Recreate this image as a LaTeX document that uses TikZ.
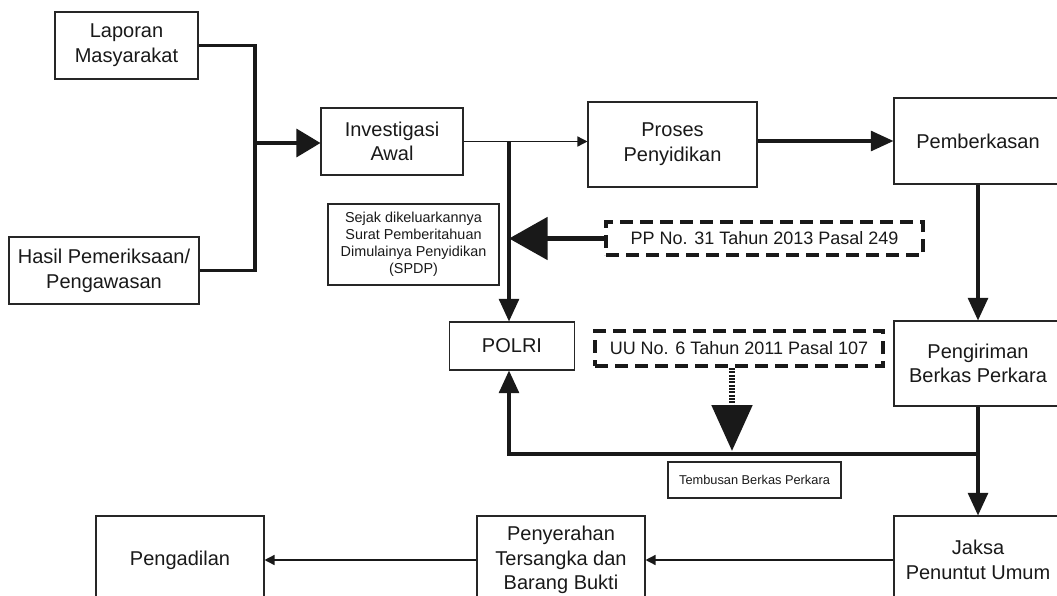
\documentclass[tikz,border=0pt]{standalone}
\usepackage{fontspec}
\setmainfont{Liberation Sans}
\usetikzlibrary{arrows.meta,calc}
\begin{document}
\begin{tikzpicture}[x=0.75pt,y=-0.75pt,
  box/.style={draw=black!85,line width=0.8pt,align=center,inner sep=0pt,text=black!90,
    font=\fontsize{15pt}{18.5pt}\selectfont},
  smallbox/.style={box,font=\fontsize{10.8pt}{12.8pt}\selectfont},
  tinybox/.style={box,font=\fontsize{9.6pt}{11pt}\selectfont},
  lawbox/.style={draw=black!90,line width=3pt,dash pattern=on 10pt off 5pt,align=center,inner sep=0pt,
    text=black!90,font=\fontsize{13.5pt}{16pt}\selectfont},
  thickline/.style={line width=2.3pt,draw=black!90},
  thinline/.style={line width=1.1pt,draw=black!90},
  bigtip/.style={-{Triangle[length=18pt,width=21pt]}},
  midtip/.style={-{Triangle[length=17pt,width=15pt]}},
  smalltip/.style={-{Triangle[length=7.5pt,width=7.5pt]}},
]
\useasboundingbox (0,0) rectangle (1057,596);
\clip (0,0) rectangle (1057,596);
% boxes
\node[box,minimum width=107.25pt,minimum height=50.25pt] (lap) at (126.5,45.5) {Laporan\\Masyarakat};
\node[box,minimum width=142.5pt,minimum height=50.25pt] (has) at (104,270.5) {Hasil Pemeriksaan/\\Pengawasan};
\node[box,minimum width=106.5pt,minimum height=50.25pt] (inv) at (392,141.5) {Investigasi\\Awal};
\node[box,minimum width=126.75pt,minimum height=63.75pt] (pro) at (672.5,144.5) {Proses\\Penyidikan};
\node[box,minimum width=126pt,minimum height=64.5pt] (pem) at (978,141) {Pemberkasan};
\node[smallbox,minimum width=128.25pt,minimum height=60.75pt] (sej) at (413.5,244.5) {Sejak dikeluarkannya\\Surat Pemberitahuan\\Dimulainya Penyidikan\\(SPDP)};
\node[lawbox,minimum width=237.75pt,minimum height=24.75pt] (pp) at (764.5,238.5) {PP No. 31 Tahun 2013 Pasal 249};
\node[box,minimum width=93.75pt,minimum height=36pt] (pol) at (512,346) {POLRI};
\node[lawbox,minimum width=216pt,minimum height=26.25pt] (uu) at (739,348.5) {UU No. 6 Tahun 2011 Pasal 107};
\node[box,minimum width=126pt,minimum height=63.75pt] (pgr) at (978,363.5) {Pengiriman\\Berkas Perkara};
\node[tinybox,minimum width=129.75pt,minimum height=27pt] (tem) at (754.5,480) {Tembusan Berkas Perkara};
\node[box,minimum width=126pt,minimum height=66pt] (jak) at (978,560) {Jaksa\\Penuntut Umum};
\node[box,minimum width=126pt,minimum height=66pt] (pny) at (561,560) {Penyerahan\\Tersangka dan\\Barang Bukti};
\node[box,minimum width=126pt,minimum height=66pt] (pgd) at (180,560) {Pengadilan};
% junction coordinates
\coordinate (j1) at (255,143);
\coordinate (j2) at (509,141.5);
\coordinate (j3) at (978,454);
\coordinate (uutip) at (732,451);
% connectors
\draw[thickline] (lap.east) -- (lap.east -| j1) -- (has.east -| j1) -- (has.east);
\draw[thickline,bigtip] (j1) -- (j1 -| inv.west);
\draw[thinline,smalltip] (inv.east) -- (inv.east -| pro.west);
\draw[thickline,midtip] (j2) -- (j2 |- pol.north);
\draw[line width=4pt,draw=black!90,-{Triangle[length=29pt,width=31.5pt]}] (pp.west) -- (pp.west -| j2);
\draw[thickline,{Triangle[length=17pt,width=15pt]}-] (pem.west) -- (pem.west -| pro.east);
\draw[thickline,midtip] (pem.south) -- (pgr.north);
\draw[thickline,midtip] (pgr.south) -- (jak.north);
\draw[thickline,midtip] (j3) -- (j3 -| j2) -- (j2 |- pol.south);
\draw[line width=4pt,draw=black!90,dash pattern=on 1.6pt off 0.9pt,-{Triangle[length=34.5pt,width=30pt,sep=0pt]}] (uu.south -| uutip) -- (uutip);
\draw[thinline,smalltip] (jak.west) -- (pny.east);
\draw[thinline,smalltip] (pny.west) -- (pgd.east);
\end{tikzpicture}
\end{document}
